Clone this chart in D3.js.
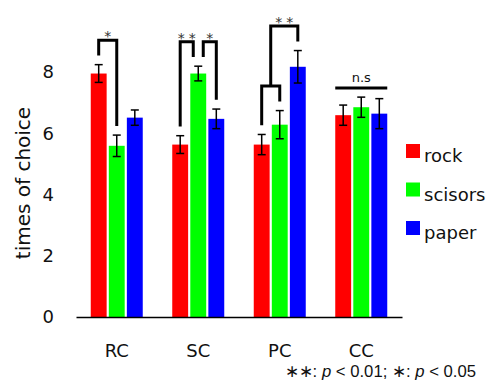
<!DOCTYPE html>
<html>
<head>
<meta charset="utf-8">
<script src="https://cdn.jsdelivr.net/npm/d3@7"></script>
<style>
  body { margin: 0; background: #fff; }
  svg text { font-family: "DejaVu Sans", Verdana, sans-serif; }
</style>
</head>
<body>
<svg id="chart" width="487" height="380"></svg>
<script>
var conditions = ['RC', 'SC', 'PC', 'CC'];
var choices = ['rock', 'scisors', 'paper'];
var colors = ['#ff0000', '#00ff00', '#0000ff'];
var yTicks = [0, 2, 4, 6, 8];

// mean times of choice, one array per choice, in condition order
var rockMean = [7.95, 5.63, 5.63, 6.59];
var scisorsMean = [5.59, 7.95, 6.28, 6.85];
var paperMean = [6.51, 6.47, 8.17, 6.64];
// standard error
var rockErr = [0.29, 0.29, 0.33, 0.33];
var scisorsErr = [0.35, 0.24, 0.46, 0.33];
var paperErr = [0.25, 0.32, 0.53, 0.49];

// significance marks
var sigPairs = [
    {cond: 'RC', a: 'rock', b: 'scisors', label: '*'},
    {cond: 'SC', a: 'rock', b: 'scisors', label: '**'},
    {cond: 'SC', a: 'scisors', b: 'paper', label: '*'}
];
var sigNested = [
    {cond: 'PC', a: 'rock', b: 'scisors', c: 'paper', label: '**'}
];
var nsConds = ['CC'];

var means = [rockMean, scisorsMean, paperMean];
var errs = [rockErr, scisorsErr, paperErr];

var svg = d3.select('#chart');

var x = d3.scaleBand().domain(conditions).range([76, 402]);
var x1 = d3.scaleBand().domain(choices).range([0, 52]).paddingInner(0.12);
var y = d3.scaleLinear().domain([0, 8]).range([317, 72]);

var rows = [];
conditions.forEach(function (c, i) {
    choices.forEach(function (s, j) {
        rows.push({cond: c, choice: s, color: colors[j], v: means[j][i], e: errs[j][i]});
    });
});

function barX(cond, choice) {
    return x(cond) + x.bandwidth() / 2 - 26 + x1(choice);
}
function barMid(cond, choice) {
    return barX(cond, choice) + x1.bandwidth() / 2;
}
function getRow(cond, choice) {
    return rows.filter(function (r) { return r.cond === cond && r.choice === choice; })[0];
}
function legEnd(cond, choice) {
    var r = getRow(cond, choice);
    return r.v + r.e + 0.3;
}

// bars
svg.append('g').selectAll('rect').data(rows).enter().append('rect')
    .attr('x', function (d) { return barX(d.cond, d.choice); })
    .attr('y', function (d) { return y(d.v); })
    .attr('width', x1.bandwidth())
    .attr('height', function (d) { return y(0) - y(d.v); })
    .attr('fill', function (d) { return d.color; });

// error bars
var eb = svg.append('g').attr('stroke', '#000').attr('stroke-width', 1.5).attr('fill', 'none');
rows.forEach(function (d) {
    var cx = barMid(d.cond, d.choice);
    eb.append('line').attr('x1', cx).attr('x2', cx).attr('y1', y(d.v - d.e)).attr('y2', y(d.v + d.e));
    eb.append('line').attr('x1', cx - 4).attr('x2', cx + 4).attr('y1', y(d.v - d.e)).attr('y2', y(d.v - d.e));
    eb.append('line').attr('x1', cx - 4).attr('x2', cx + 4).attr('y1', y(d.v + d.e)).attr('y2', y(d.v + d.e));
});

// axes
var xAxis = svg.append('g').attr('transform', 'translate(0,' + y(0) + ')')
    .call(d3.axisBottom(x).tickSize(0).tickSizeOuter(0).tickPadding(27));
xAxis.select('.domain').attr('stroke', '#000').attr('stroke-width', 1.5);
xAxis.selectAll('text').attr('font-size', 18).attr('fill', '#111')
    .style('font-family', '"DejaVu Sans", Verdana, sans-serif');

var yAxis = svg.append('g').attr('transform', 'translate(76,0)')
    .call(d3.axisLeft(y).tickValues(yTicks).tickSize(0).tickPadding(22));
yAxis.select('.domain').remove();
yAxis.selectAll('text').attr('font-size', 18).attr('fill', '#111')
    .style('font-family', '"DejaVu Sans", Verdana, sans-serif');

svg.append('text')
    .attr('transform', 'translate(30,183) rotate(-90)')
    .attr('text-anchor', 'middle')
    .attr('font-size', 20).attr('fill', '#111')
    .text('times of choice');

// brackets
var br = svg.append('g').attr('stroke', '#000').attr('stroke-width', 3).attr('fill', 'none');
var starG = svg.append('g');

function bracket(xa, ya, xb, yb, top) {
    br.append('path').attr('d', 'M' + xa + ',' + y(ya) + 'V' + y(top) + 'H' + xb + 'V' + y(yb));
}

function stars(cx, top, label) {
    var n = label.length;
    for (var k = 0; k < n; k++) {
        starG.append('text')
            .attr('x', cx + (k - (n - 1) / 2) * 11)
            .attr('y', y(top) + 1)
            .attr('text-anchor', 'middle')
            .attr('font-size', 14).attr('fill', '#333')
            .text('*');
    }
}

var shared = {};
sigPairs.forEach(function (p) {
    shared[p.cond + p.a] = (shared[p.cond + p.a] || 0) + 1;
    shared[p.cond + p.b] = (shared[p.cond + p.b] || 0) + 1;
});

sigPairs.forEach(function (p) {
    var xa = barMid(p.cond, p.a), xb = barMid(p.cond, p.b);
    if (shared[p.cond + p.a] > 1) { xa += 5; }
    if (shared[p.cond + p.b] > 1) { xb -= 5; }
    var ya = legEnd(p.cond, p.a), yb = legEnd(p.cond, p.b);
    var top = Math.max(ya, yb) + 0.5;
    bracket(xa, ya, xb, yb, top);
    stars((xa + xb) / 2, top, p.label);
});

sigNested.forEach(function (p) {
    var xa = barMid(p.cond, p.a), xb = barMid(p.cond, p.b), xc = barMid(p.cond, p.c);
    var ya = legEnd(p.cond, p.a), yb = legEnd(p.cond, p.b), yc = legEnd(p.cond, p.c);
    var sub = Math.max(ya, yb) + 0.5;
    bracket(xa, ya, xb, yb, sub);
    var xm = (xa + xb) / 2;
    var top = Math.max(sub, yc) + 0.5;
    bracket(xm, sub, xc, yc, top);
    stars((xm + xc) / 2, top, p.label);
});

nsConds.forEach(function (c) {
    var top = d3.max(choices, function (s) { return legEnd(c, s); });
    var x0 = barX(c, choices[0]);
    var x2 = barX(c, choices[2]) + x1.bandwidth();
    br.append('line').attr('x1', x0).attr('x2', x2).attr('y1', y(top)).attr('y2', y(top));
    svg.append('text')
        .attr('x', (x0 + x2) / 2).attr('y', y(top) - 6)
        .attr('text-anchor', 'middle')
        .attr('font-size', 13).attr('fill', '#111')
        .text('n.s');
});

// legend
var legend = svg.append('g').selectAll('g').data(choices).enter().append('g')
    .attr('transform', function (d, i) { return 'translate(406,' + (144 + i * 38.5) + ')'; });
legend.append('rect').attr('width', 14).attr('height', 14)
    .attr('fill', function (d, i) { return colors[i]; });
legend.append('text').attr('x', 18).attr('y', 18)
    .attr('font-size', 18).attr('fill', '#111')
    .text(function (d) { return d; });

// footnote
var note = svg.append('text')
    .attr('x', 476).attr('y', 377)
    .attr('text-anchor', 'end')
    .attr('font-size', 16.7).attr('fill', '#111')
    .style('font-family', '"Liberation Sans", Arial, sans-serif');
note.append('tspan').text('\u2217\u2217: ');
note.append('tspan').attr('font-style', 'italic').text('p');
note.append('tspan').text(' < 0.01; \u2217: ');
note.append('tspan').attr('font-style', 'italic').text('p');
note.append('tspan').text(' < 0.05');
</script>
</body>
</html>
